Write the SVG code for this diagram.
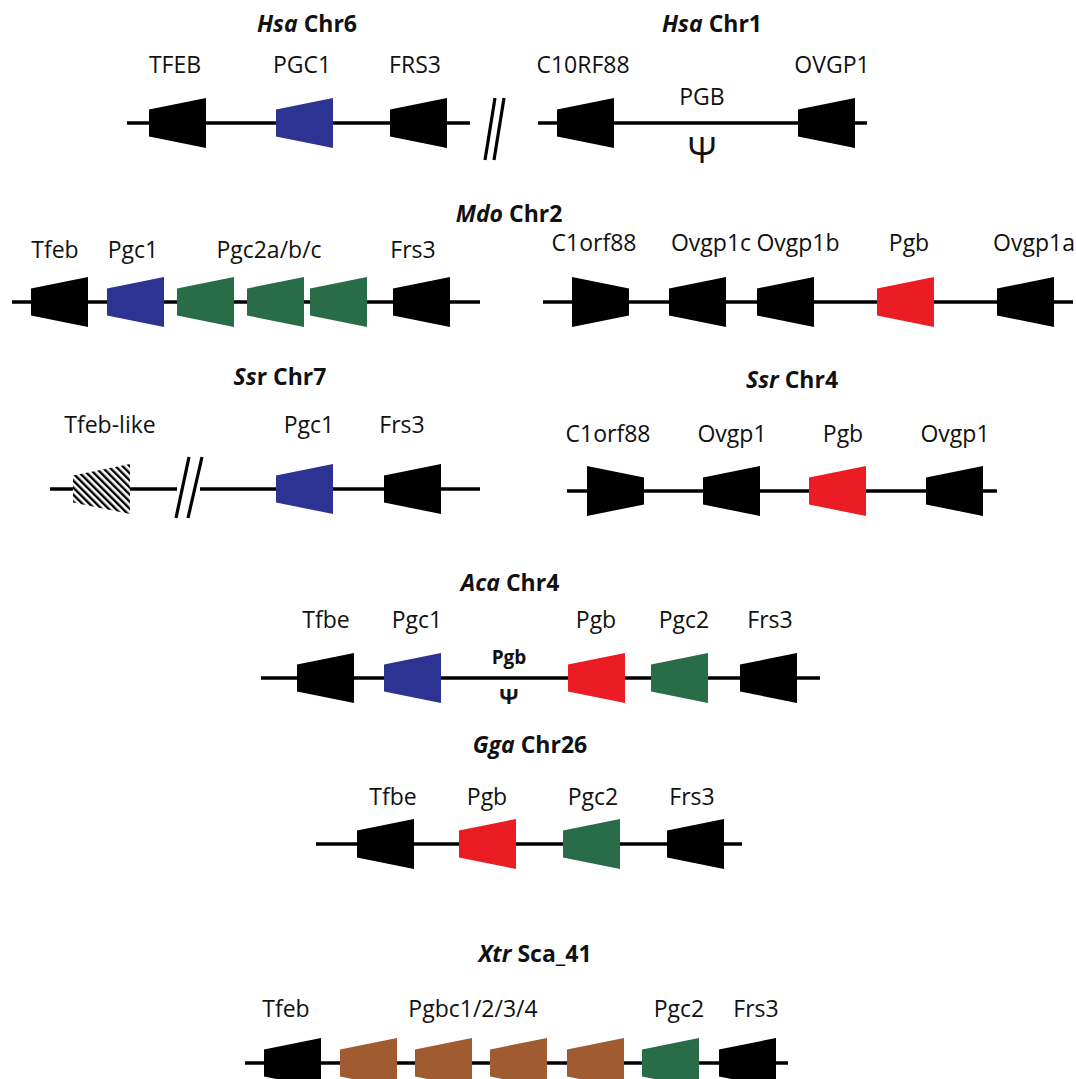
<svg xmlns="http://www.w3.org/2000/svg" xmlns:xlink="http://www.w3.org/1999/xlink" width="1076" height="1079" viewBox="0 0 1076 1079">
<style>
text{font-family:"Open Sans","Liberation Sans",sans-serif;fill:#111;text-anchor:middle}
.lbl{font-size:23px}
.ttl{font-size:23px;font-weight:bold}
.it{font-style:italic}
.chr{stroke:#000;stroke-width:3.6;fill:none}
.sl{stroke:#000;stroke-width:3.2;fill:none}
.k{fill:#000}
.b{fill:#2c3393}
.g{fill:#296c48}
.r{fill:#ec1c24}
.br{fill:#a05b31}
.h{fill:url(#hatch)}
</style>
<defs>
<path id="L" d="M0,-13.5 L57,-25 L57,25 L0,13.5 Z"/>
<path id="R" d="M0,-25 L57,-13.5 L57,13.5 L0,25 Z"/>
<pattern id="hatch" width="5" height="5" patternUnits="userSpaceOnUse" patternTransform="rotate(-45)">
<rect width="5" height="5" fill="#fff"/><rect width="2.4" height="5" fill="#000"/>
</pattern>
</defs>
<rect width="1076" height="1079" fill="#fff"/>

<g id="connectors">
<line class="chr" x1="127" y1="123" x2="470" y2="123"/>
<line class="sl" x1="485" y1="160" x2="495" y2="98"/>
<line class="sl" x1="494" y1="160" x2="504" y2="98"/>
<line class="chr" x1="538" y1="123" x2="867" y2="123"/>
<line class="chr" x1="12" y1="302" x2="480" y2="302"/>
<line class="chr" x1="543" y1="302" x2="1073" y2="302"/>
<line class="chr" x1="50" y1="489" x2="177" y2="489"/>
<line class="sl" x1="176" y1="518" x2="189" y2="457"/>
<line class="sl" x1="188" y1="518" x2="202" y2="457"/>
<line class="chr" x1="200" y1="489" x2="480" y2="489"/>
<line class="chr" x1="567" y1="491" x2="997" y2="491"/>
<line class="chr" x1="261" y1="678" x2="820" y2="678"/>
<line class="chr" x1="316" y1="844" x2="742" y2="844"/>
<line class="chr" x1="245" y1="1063" x2="788" y2="1063"/>
</g>

<!-- Hsa Chr6 -->
<g id="title-hsa-chr6"><text class="ttl" x="307" y="32"><tspan class="it">Hsa</tspan> Chr6</text></g>
<g id="hsa6-tfeb"><use href="#L" class="k" x="149" y="123"/><text class="lbl" x="175" y="73">TFEB</text></g>
<g id="hsa6-pgc1"><use href="#L" class="b" x="276" y="123"/><text class="lbl" x="302" y="73">PGC1</text></g>
<g id="hsa6-frs3"><use href="#L" class="k" x="390" y="123"/><text class="lbl" x="415" y="73">FRS3</text></g>

<!-- Hsa Chr1 -->
<g id="title-hsa-chr1"><text class="ttl" x="712" y="32"><tspan class="it">Hsa</tspan> Chr1</text></g>
<g id="hsa1-c1orf88"><use href="#L" class="k" x="557" y="123"/><text class="lbl" x="583" y="73">C10RF88</text></g>
<g id="hsa1-pgb"><text class="lbl" x="702" y="105">PGB</text><text x="702" y="163" style="font-size:36px">Ψ</text></g>
<g id="hsa1-ovgp1"><use href="#L" class="k" x="798" y="123"/><text class="lbl" x="832" y="73">OVGP1</text></g>

<!-- Mdo Chr2 -->
<g id="title-mdo-chr2"><text class="ttl" x="509" y="222"><tspan class="it">Mdo</tspan> Chr2</text></g>
<g id="mdo-tfeb"><use href="#L" class="k" x="31" y="302"/><text class="lbl" x="55" y="258">Tfeb</text></g>
<g id="mdo-pgc1"><use href="#L" class="b" x="107" y="302"/><text class="lbl" x="133" y="258">Pgc1</text></g>
<g id="mdo-pgc2abc"><use href="#L" class="g" x="177" y="302"/><use href="#L" class="g" x="247" y="302"/><use href="#L" class="g" x="310" y="302"/><text class="lbl" x="269" y="258">Pgc2a/b/c</text></g>
<g id="mdo-frs3"><use href="#L" class="k" x="393" y="302"/><text class="lbl" x="413" y="258">Frs3</text></g>
<g id="mdo-c1orf88"><use href="#R" class="k" x="572" y="302"/><text class="lbl" x="594" y="251">C1orf88</text></g>
<g id="mdo-ovgp1c"><use href="#L" class="k" x="669" y="302"/><text class="lbl" x="711" y="251">Ovgp1c</text></g>
<g id="mdo-ovgp1b"><use href="#L" class="k" x="757" y="302"/><text class="lbl" x="798" y="251">Ovgp1b</text></g>
<g id="mdo-pgb"><use href="#L" class="r" x="877" y="302"/><text class="lbl" x="909" y="251">Pgb</text></g>
<g id="mdo-ovgp1a"><use href="#L" class="k" x="997" y="302"/><text class="lbl" x="1034" y="251">Ovgp1a</text></g>

<!-- Ssr Chr7 -->
<g id="title-ssr-chr7"><text class="ttl" x="280" y="385"><tspan class="it">Ss</tspan>r Chr7</text></g>
<g id="ssr7-tfeblike"><use href="#L" class="h" x="73" y="489"/><text class="lbl" x="110" y="433">Tfeb-like</text></g>
<g id="ssr7-pgc1"><use href="#L" class="b" x="276" y="489"/><text class="lbl" x="309" y="433">Pgc1</text></g>
<g id="ssr7-frs3"><use href="#L" class="k" x="384" y="489"/><text class="lbl" x="402" y="433">Frs3</text></g>

<!-- Ssr Chr4 -->
<g id="title-ssr-chr4"><text class="ttl" x="792" y="388"><tspan class="it">Ssr</tspan> Chr4</text></g>
<g id="ssr4-c1orf88"><use href="#R" class="k" x="587" y="491"/><text class="lbl" x="608" y="442">C1orf88</text></g>
<g id="ssr4-ovgp1-a"><use href="#L" class="k" x="703" y="491"/><text class="lbl" x="732" y="442">Ovgp1</text></g>
<g id="ssr4-pgb"><use href="#L" class="r" x="809" y="491"/><text class="lbl" x="843" y="442">Pgb</text></g>
<g id="ssr4-ovgp1-b"><use href="#L" class="k" x="926" y="491"/><text class="lbl" x="955" y="442">Ovgp1</text></g>

<!-- Aca Chr4 -->
<g id="title-aca-chr4"><text class="ttl" x="510" y="591"><tspan class="it">Aca</tspan> Chr4</text></g>
<g id="aca-tfbe"><use href="#L" class="k" x="297" y="678"/><text class="lbl" x="326" y="628">Tfbe</text></g>
<g id="aca-pgc1"><use href="#L" class="b" x="384" y="678"/><text class="lbl" x="417" y="628">Pgc1</text></g>
<g id="aca-pgb-pseudo"><text x="509" y="664" style="font-size:19px;font-weight:bold">Pgb</text><text x="509" y="704" style="font-size:22px;font-weight:bold">Ψ</text></g>
<g id="aca-pgb"><use href="#L" class="r" x="568" y="678"/><text class="lbl" x="596" y="628">Pgb</text></g>
<g id="aca-pgc2"><use href="#L" class="g" x="651" y="678"/><text class="lbl" x="684" y="628">Pgc2</text></g>
<g id="aca-frs3"><use href="#L" class="k" x="740" y="678"/><text class="lbl" x="770" y="628">Frs3</text></g>

<!-- Gga Chr26 -->
<g id="title-gga-chr26"><text class="ttl" x="530" y="753"><tspan class="it">Gga</tspan> Chr26</text></g>
<g id="gga-tfbe"><use href="#L" class="k" x="357" y="844"/><text class="lbl" x="393" y="805">Tfbe</text></g>
<g id="gga-pgb"><use href="#L" class="r" x="459" y="844"/><text class="lbl" x="487" y="805">Pgb</text></g>
<g id="gga-pgc2"><use href="#L" class="g" x="563" y="844"/><text class="lbl" x="593" y="805">Pgc2</text></g>
<g id="gga-frs3"><use href="#L" class="k" x="667" y="844"/><text class="lbl" x="692" y="805">Frs3</text></g>

<!-- Xtr Sca_41 -->
<g id="title-xtr-sca41"><text class="ttl" x="535" y="962"><tspan class="it">Xtr</tspan> Sca_41</text></g>
<g id="xtr-tfeb"><use href="#L" class="k" x="264" y="1063"/><text class="lbl" x="286" y="1017">Tfeb</text></g>
<g id="xtr-pgbc1234"><use href="#L" class="br" x="340" y="1063"/><use href="#L" class="br" x="415" y="1063"/><use href="#L" class="br" x="490" y="1063"/><use href="#L" class="br" x="567" y="1063"/><text class="lbl" x="473" y="1017">Pgbc1/2/3/4</text></g>
<g id="xtr-pgc2"><use href="#L" class="g" x="642" y="1063"/><text class="lbl" x="679" y="1017">Pgc2</text></g>
<g id="xtr-frs3"><use href="#L" class="k" x="719" y="1063"/><text class="lbl" x="756" y="1017">Frs3</text></g>
</svg>
